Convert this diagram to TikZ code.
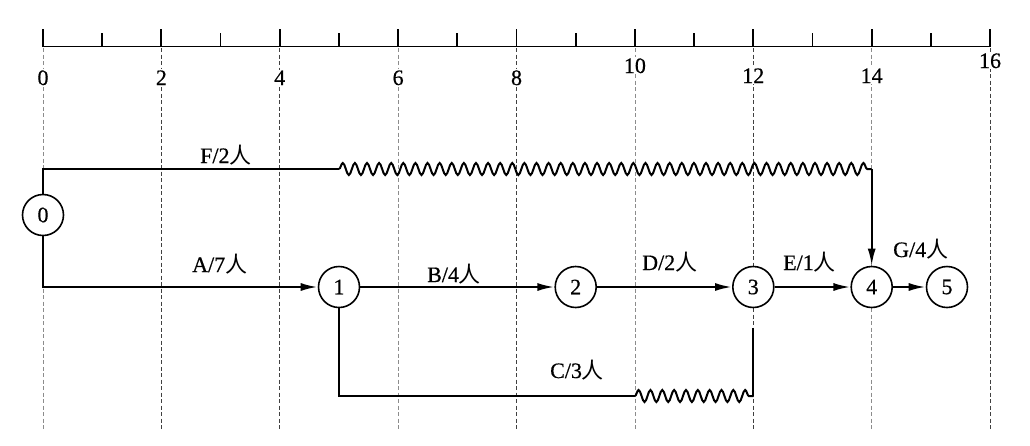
\documentclass[tikz,border=0pt]{standalone}
\usepackage{fontspec}
\setmainfont{Liberation Serif}[FakeBold=0.6]
\newfontfamily\cjk{Noto Sans CJK SC}
\usetikzlibrary{arrows.meta,decorations.pathmorphing}
\begin{document}
\begin{tikzpicture}[x=1pt,y=-1pt,
 evt/.style={circle,draw,fill=white,line width=1.6pt,minimum size=41pt,inner sep=0pt,font=\fontsize{22}{22}\selectfont},
 work/.style={line width=2.2pt},
 arr/.style={work,-{Latex[length=17pt,width=8pt]}},
 wavy/.style={line width=2pt,decorate,decoration={snake,amplitude=6pt,segment length=#1}},
 lbl/.style={anchor=base west,inner sep=0pt,font=\fontsize{22}{22}\selectfont},
 num/.style={anchor=base,inner sep=1pt,fill=white,font=\fontsize{22}{22}\selectfont},
 griddark/.style={line width=1pt,black!75,dash pattern=on 4pt off 2.5pt},
 gridlight/.style={line width=0.8pt,black!45,dash pattern=on 4pt off 2.5pt}]
\fill[white] (0,0) rectangle (1030,445);
\useasboundingbox (0,0) rectangle (1030,445);
% axis
\draw[line width=1.8pt] (43,46.5) -- (990.1,46.5);
\foreach \i in {0,2,...,16}{\draw[line width=1.8pt] ({43+59.19*\i},46.5) -- ++(0,-18);}
\foreach \i in {1,3,...,15}{\draw[line width=1.8pt] ({43+59.19*\i},46.5) -- ++(0,-14);}
% grid
\foreach \i/\s in {0/gridlight,2/griddark,4/griddark,6/gridlight,8/griddark,10/gridlight,12/griddark,14/gridlight,16/griddark}
  {\draw[\s] ({43+59.19*\i},48) -- ({43+59.19*\i},430);}
% numbers
\foreach \i/\b in {0/85,2/85,4/85,6/85,8/85,10/73,12/83,14/83,16/68}
  {\node[num] (t\i) at ({43+59.19*\i},\b) {\i};}
% events
\node[evt] (n0) at (43,215) {0};
\node[evt] (n1) at (339,287) {1};
\node[evt] (n2) at (575.7,287) {2};
\node[evt] (n3) at (753.3,287) {3};
\node[evt] (n4) at (871.7,287) {4};
\node[evt] (n5) at (947,287) {5};
% coordinates
\coordinate (f5) at (339,169);
\coordinate (f14) at (871.7,169);
\coordinate (c10) at (634.9,396);
\coordinate (c12) at (753.3,396);
\coordinate (c3) at (753.3,328);
% works
\draw[work] (n0) |- (f5);
\draw[wavy=12.107] (f5) -- (f14);
\draw[arr] (f14) -- (n4);
\draw[arr] (n0) |- (n1);
\draw[arr] (n1) -- (n2);
\draw[arr] (n2) -- (n3);
\draw[arr] (n3) -- (n4);
\draw[arr] (n4) -- (n5);
\draw[work] (n1) |- (c10);
\draw[wavy=11.84] (c10) -- (c12);
\draw[work] (c12) -- (c3);
% labels
\node[lbl] (lf) at (200,163) {F/2{\cjk 人}};
\node[lbl] (la) at (192,272) {A/7{\cjk 人}};
\node[lbl] (lb) at (427,282) {B/4{\cjk 人}};
\node[lbl] (ld) at (642,270) {D/2{\cjk 人}};
\node[lbl] (le) at (783,270) {E/1{\cjk 人}};
\node[lbl] (lg) at (893,257) {G/4{\cjk 人}};
\node[lbl] (lc) at (550,378) {C/3{\cjk 人}};
\end{tikzpicture}
\end{document}
